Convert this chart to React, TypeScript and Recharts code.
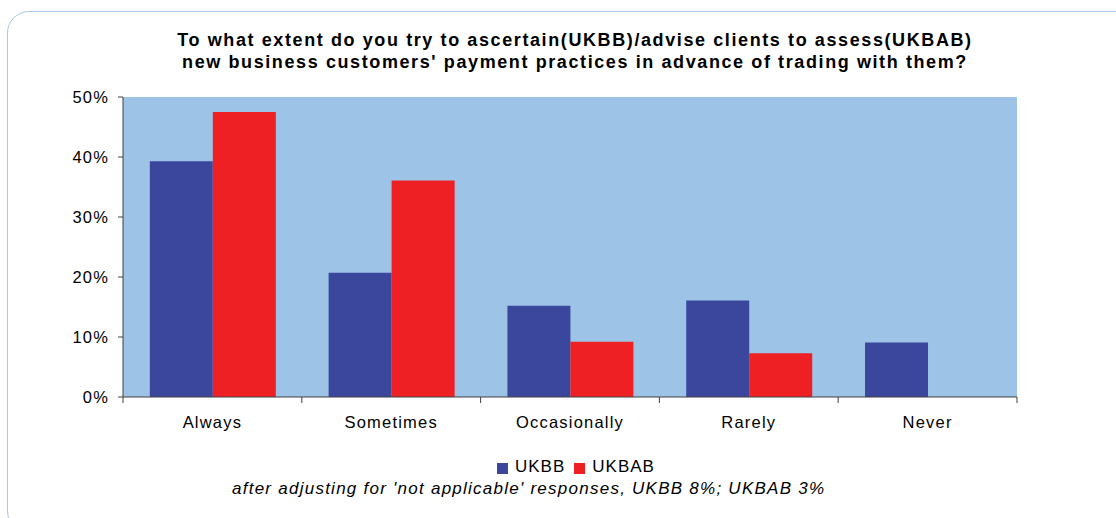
import { FC } from "react";
import {
  BarChart,
  Bar,
  XAxis,
  YAxis,
  CartesianGrid,
} from "recharts";

const categories = ["Always", "Sometimes", "Occasionally", "Rarely", "Never"];
const ukbb = [39.3, 20.7, 15.2, 16.1, 9.1];
const ukbab = [47.5, 36.1, 9.2, 7.3, 0];
const yTicks = [0, 10, 20, 30, 40, 50];

const seriesNames = ["UKBB", "UKBAB"];
const seriesColors = ["#3B479D", "#EE2024"];

const titleLines = [
  "To what extent do you try to ascertain(UKBB)/advise clients to assess(UKBAB)",
  "new business customers' payment practices in advance of trading with them?",
];
const footnote =
  "after adjusting for 'not applicable' responses, UKBB 8%; UKBAB 3%";

const data = categories.map((name, i) => ({
  name,
  UKBB: ukbb[i],
  UKBAB: ukbab[i],
}));

const FONT = "'Liberation Sans', Arial, sans-serif";
const AXIS = "#404040";

// category tick: label at the centre, tick marks at the band edges
const CategoryTick: FC<any> = ({ x, y, payload, index }) => {
  const half = payload?.offset ?? 89.4;
  return (
    <g>
      <line x1={x - half} y1={y - 8} x2={x - half} y2={y - 2} stroke={AXIS} />
      {index === categories.length - 1 && (
        <line x1={x + half} y1={y - 8} x2={x + half} y2={y - 2} stroke={AXIS} />
      )}
      <text
        x={x}
        y={y + 23}
        textAnchor="middle"
        fontFamily={FONT}
        fontSize={16.5}
        letterSpacing={1.2}
        fill="#000"
      >
        {payload.value}
      </text>
    </g>
  );
};

const App: FC = () => {
  return (
    <div
      style={{
        position: "absolute",
        left: 0,
        top: 0,
        width: 1116,
        height: 518,
        background: "#fff",
        fontFamily: FONT,
        overflow: "hidden",
      }}
    >
      <div
        style={{
          position: "absolute",
          left: 7,
          top: 11,
          width: 1130,
          height: 520,
          border: "1.5px solid #A9C8EC",
          borderRadius: 22,
        }}
      />
      <div
        style={{
          position: "absolute",
          left: 0,
          top: 29,
          width: 1150,
          textAlign: "center",
          fontWeight: "bold",
          fontSize: 18,
          letterSpacing: 1.6,
          lineHeight: "22px",
          color: "#000",
        }}
      >
        {titleLines.map((t) => (
          <div key={t}>{t}</div>
        ))}
      </div>
      <div style={{ position: "absolute", left: 0, top: 0 }}>
        <BarChart
          width={1116}
          height={518}
          data={data}
          margin={{ top: 97, right: 99, bottom: 91, left: 63 }}
          barCategoryGap="15%"
          barGap={0}
        >
          <CartesianGrid
            fill="#9DC3E6"
            horizontal={false}
            vertical={false}
            stroke="none"
          />
          <XAxis
            dataKey="name"
            height={30}
            axisLine={{ stroke: AXIS }}
            tickLine={false}
            interval={0}
            tick={<CategoryTick />}
          />
          <YAxis
            width={60}
            domain={[0, 50]}
            ticks={yTicks}
            interval={0}
            tickFormatter={(v: number) => `${v}%`}
            axisLine={{ stroke: AXIS }}
            tickLine={{ stroke: AXIS }}
            tickSize={5}
            tickMargin={9}
            tick={{
              fontFamily: FONT,
              fontSize: 16.5,
              fill: "#000",
              letterSpacing: 1.2,
            }}
          />
          {seriesNames.map((s, i) => (
            <Bar
              key={s}
              dataKey={s}
              fill={seriesColors[i]}
              isAnimationActive={false}
            />
          ))}
        </BarChart>
      </div>
      <div
        style={{
          position: "absolute",
          left: 497,
          top: 457,
          display: "flex",
          alignItems: "center",
          fontSize: 17,
          letterSpacing: 1,
          color: "#000",
        }}
      >
        {seriesNames.map((s, i) => (
          <div
            key={s}
            style={{ display: "flex", alignItems: "center", marginRight: 9 }}
          >
            <span
              style={{
                display: "inline-block",
                width: 11,
                height: 11,
                background: seriesColors[i],
                marginRight: 7,
                marginTop: 3,
              }}
            />
            <span>{s}</span>
          </div>
        ))}
      </div>
      <div
        style={{
          position: "absolute",
          left: 232,
          top: 479,
          fontSize: 17,
          letterSpacing: 1.25,
          fontStyle: "italic",
          color: "#000",
          whiteSpace: "nowrap",
        }}
      >
        {footnote}
      </div>
    </div>
  );
};

export default App;
